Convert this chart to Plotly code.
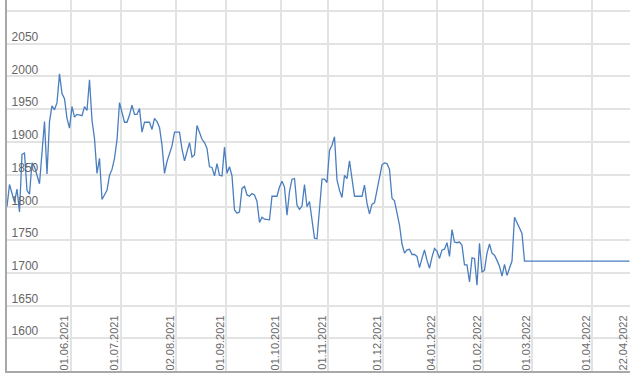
import plotly.graph_objects as go

# trading-session index (x) and price (y)
session = [0, 1, 3, 4, 5, 6, 7, 8, 9, 10, 11, 12, 13, 15, 16, 17, 18, 19, 20, 21,
           22, 23, 24, 25, 26, 27, 28, 30, 31, 32, 33, 34, 35, 36, 37, 38, 39, 40, 41, 42,
           43, 44, 45, 46, 47, 48, 49, 50, 51, 52, 53, 54, 55, 56, 57, 58, 59, 60, 61, 62,
           63, 64, 65, 66, 67, 68, 69, 70, 71, 72, 73, 74, 75, 76, 77, 78, 79, 80, 81, 82,
           83, 84, 85, 86, 87, 88, 89, 90, 91, 92, 93, 94, 95, 96, 97, 98, 99, 100, 101, 102,
           103, 104, 105, 106, 107, 108, 109, 110, 111, 112, 113, 114, 115, 116, 117, 118, 119, 120, 121, 122,
           123, 124, 125, 126, 127, 128, 129, 130, 131, 132, 133, 134, 135, 136, 137, 138, 139, 140, 141, 142,
           143, 144, 145, 146, 147, 148, 149, 150, 151, 152, 153, 154, 155, 156, 157, 158, 159, 160, 161, 162,
           163, 164, 165, 166, 167, 168, 169, 170, 171, 172, 173, 174, 175, 176, 177, 178, 179, 180, 181, 182,
           183, 184, 185, 186, 187, 188, 189, 190, 191, 192, 193, 194, 195, 196, 197, 198, 199, 200, 201, 202,
           203, 204, 205, 206, 207, 249]

price = [1801, 1835, 1808, 1828, 1793, 1881, 1883, 1826, 1820, 1868, 1862, 1847, 1836, 1931, 1851, 1931, 1955, 1949, 1960, 2004,
         1974, 1966, 1936, 1921, 1954, 1938, 1942, 1940, 1954, 1948, 1995, 1933, 1905, 1852, 1875, 1812, 1820, 1826, 1849, 1858,
         1875, 1903, 1960, 1946, 1930, 1930, 1941, 1956, 1942, 1942, 1951, 1915, 1930, 1930, 1930, 1919, 1936, 1931, 1922, 1895,
         1852, 1870, 1882, 1894, 1915, 1915, 1915, 1889, 1871, 1885, 1899, 1877, 1880, 1925, 1915, 1904, 1899, 1890, 1862, 1861,
         1848, 1867, 1849, 1848, 1892, 1852, 1862, 1848, 1796, 1791, 1793, 1829, 1832, 1819, 1817, 1821, 1819, 1809, 1777, 1785,
         1782, 1781, 1781, 1817, 1817, 1817, 1831, 1840, 1831, 1788, 1824, 1843, 1844, 1803, 1797, 1802, 1835, 1801, 1809, 1778,
         1753, 1752, 1798, 1843, 1843, 1838, 1887, 1895, 1908, 1842, 1826, 1815, 1849, 1844, 1871, 1847, 1817, 1817, 1817, 1817,
         1834, 1806, 1790, 1805, 1807, 1826, 1844, 1865, 1868, 1867, 1858, 1814, 1810, 1793, 1773, 1744, 1730, 1735, 1736, 1728,
         1728, 1725, 1708, 1722, 1735, 1719, 1707, 1724, 1737, 1733, 1722, 1735, 1736, 1746, 1725, 1766, 1747, 1746, 1747, 1742,
         1712, 1712, 1686, 1723, 1722, 1681, 1745, 1701, 1704, 1730, 1744, 1730, 1727, 1719, 1710, 1695, 1713, 1696, 1709, 1718,
         1785, 1776, 1768, 1760, 1718, 1718]

tick_session = [25.5, 45.5, 67.6, 87.6, 109.6, 128.4, 150.4, 172.0, 190.4, 210.0, 234.0, 248.9]
tick_dates = ["01.06.2021", "01.07.2021", "02.08.2021", "01.09.2021", "01.10.2021", "01.11.2021",
              "01.12.2021", "04.01.2022", "01.02.2022", "01.03.2022", "01.04.2022", "22.04.2022"]

y_ticks = [1550, 1600, 1650, 1700, 1750, 1800, 1850, 1900, 1950, 2000, 2050, 2100]
y_labels = ["", "1600", "1650", "1700", "1750", "1800", "1850", "1900", "1950", "2000", "2050", ""]

fig = go.Figure(go.Scatter(
    x=session, y=price, mode="lines",
    line=dict(color="#4a7ebf", width=1.3),
    hoverinfo="skip",
))

fig.update_layout(
    width=638, height=378,
    margin=dict(l=7, r=8, t=0, b=7),
    paper_bgcolor="white", plot_bgcolor="white",
    showlegend=False,
    font=dict(family="Arial, Liberation Sans, sans-serif", color="#666666"),
)
fig.update_xaxes(
    range=[0, 249.2], tickmode="array", tickvals=tick_session, ticktext=tick_dates,
    tickangle=-90, ticklabelposition="outside", ticklabelstandoff=-62, ticklabelshift=-6,
    tickfont=dict(size=11, color="#6a6a6a"),
    showgrid=True, gridcolor="#e3e3e3", gridwidth=1.5,
    showline=True, linecolor="#a8a8a8", linewidth=2,
    zeroline=False, ticks="",
)
fig.update_yaxes(
    range=[1550, 2116.8], tickmode="array", tickvals=y_ticks, ticktext=y_labels,
    ticklabelposition="inside", ticklabelshift=-7, ticklabelstandoff=4,
    tickfont=dict(size=12, color="#666666"),
    showgrid=True, gridcolor="#e3e3e3", gridwidth=1.5,
    showline=True, linecolor="#a8a8a8", linewidth=2,
    zeroline=False, ticks="",
)

fig.write_html("out.html", config={"displayModeBar": False},
               post_script="document.body.style.margin='0';")
